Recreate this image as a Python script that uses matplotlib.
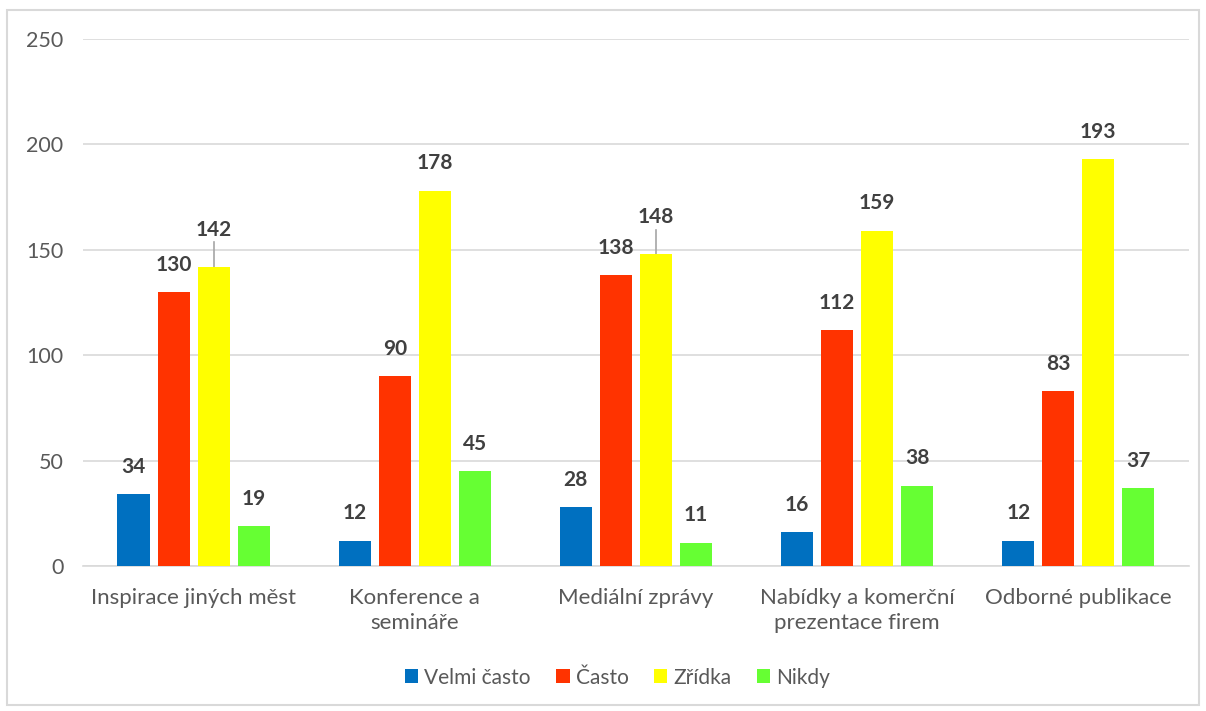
import numpy as np
import matplotlib.pyplot as plt
from matplotlib.patches import Rectangle

categories = ["Inspirace jiných měst", "Konference a\nsemináře", "Mediální zprávy",
              "Nabídky a komerční\nprezentace firem", "Odborné publikace"]
series_names = ["Velmi často", "Často", "Zřídka", "Nikdy"]
velmi_casto = [34, 12, 28, 16, 12]
casto = [130, 90, 138, 112, 83]
zridka = [142, 178, 148, 159, 193]
nikdy = [19, 45, 11, 38, 37]
colors = ["#0070C0", "#FF3300", "#FFFF00", "#66FF33"]

plt.rcParams['font.family'] = ['Lato', 'DejaVu Sans']

fig = plt.figure(figsize=(12.06, 7.11), dpi=100)
ax = fig.add_axes([0.0688, 0.204, 0.917, 0.741])

x = np.arange(len(categories))
width = 0.145
step = 0.181
txt = "#595959"

for i, (name, vals, c) in enumerate(zip(series_names, [velmi_casto, casto, zridka, nikdy], colors)):
    pos = x + (i - 1.5) * step
    ax.bar(pos, vals, width, color=c, label=name, zorder=3)
    for j, (p, v) in enumerate(zip(pos, vals)):
        off = 13
        # labels that collide with neighbour get lifted with a leader line
        if name == "Zřídka" and v - casto[j] < 15:
            off = 17.5
            ax.plot([p, p], [v, v + 11.5], color="#A6A6A6", lw=1.2, zorder=2)
        ax.text(p, v + off, str(v), ha="center", va="center", fontsize=15,
                fontweight="bold", color="#404040")

ax.set_xlim(-0.5, len(categories) - 0.5)
ax.set_ylim(0, 250)
ax.set_yticks(range(0, 251, 50))
ax.grid(axis="y", color="#D9D9D9", lw=1.2, zorder=0)
for s in ["top", "right", "left"]:
    ax.spines[s].set_visible(False)
ax.spines["bottom"].set_color("#D9D9D9")
ax.spines["bottom"].set_linewidth(1.2)
ax.tick_params(axis="y", length=0, labelsize=15.5, labelcolor=txt, pad=14)
ax.tick_params(axis="x", length=0, labelsize=16, labelcolor=txt, pad=16)
ax.set_xticks(x)
ax.set_xticklabels(categories, linespacing=1.3)

leg = fig.legend(loc="center", bbox_to_anchor=(0.512, 0.047), ncol=4, frameon=False,
                 fontsize=15, handlelength=0.65, handleheight=0.65, handletextpad=0.3,
                 columnspacing=1.2)
for t in leg.get_texts():
    t.set_color(txt)

fig.patches.append(Rectangle((0.006, 0.009), 0.988, 0.977, transform=fig.transFigure,
                             fill=False, edgecolor="#D9D9D9", lw=1.5))

fig.savefig("out.png", dpi=100)
